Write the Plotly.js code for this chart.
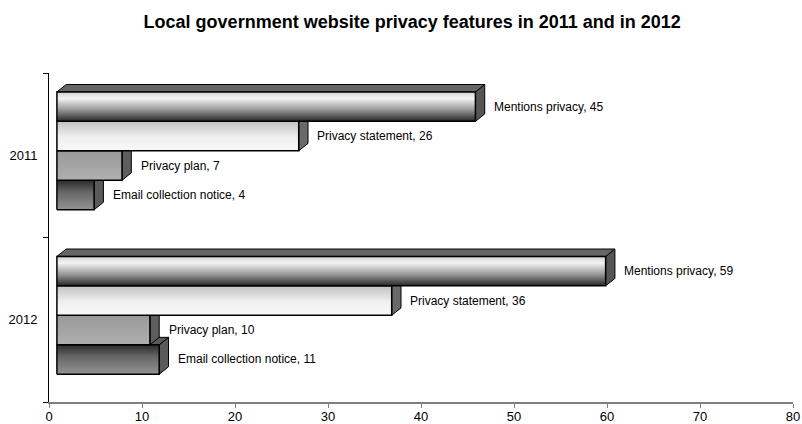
<!DOCTYPE html>
<html><head><meta charset="utf-8">
<script src="https://cdn.plot.ly/plotly-3.0.1.min.js"></script>
<style>html,body{margin:0;padding:0;background:#fff;} #chart{width:802px;height:424px;}</style>
</head><body><div id="chart"></div>
<script>
// ---- data ----
const categories = ['2011', '2012'];
const seriesNames = ['Mentions privacy', 'Privacy statement', 'Privacy plan', 'Email collection notice'];
const values2011 = [45, 26, 7, 4];
const values2012 = [59, 36, 10, 11];
const xTickVals = [0, 10, 20, 30, 40, 50, 60, 70, 80];
const chartTitle = 'Local government website privacy features in 2011 and in 2012';

// ---- style constants ----
const FONT = 'Liberation Sans, Arial, sans-serif';
const BASE = 0.85;      // front-face offset of 3D bars (x units)
const DX = 1.0;         // depth offset x (x units)
const DY = 0.045;       // depth offset y (category units)
const BH = 0.179;       // bar thickness (category units)
const GROUP_SHIFT = 0.027;
const LABEL_GAP = 0.8;
// vertical gradients, 0 = bottom, 1 = top
const frontScales = [
  [[0, '#262626'], [0.4, '#9a9a9a'], [0.78, '#f4f4f4'], [1, '#d0d0d0']],
  [[0, '#f8f8f8'], [0.45, '#f0f0f0'], [1, '#c2c2c2']],
  [[0, '#b0b0b0'], [1, '#999999']],
  [[0, '#939393'], [0.6, '#666666'], [1, '#2a2a2a']]
];
const sideColors = ['#555555', '#6a6a6a', '#5e5e5e', '#5a5a5a'];
const topColors = ['#666666', '#a0a0a0', '#8a8a8a', '#5a5a5a'];

const allValues = [values2011, values2012];
const traces = [];
const annotations = [];

categories.forEach((cat, ci) => {
  const c = categories.length - 1 - ci;
  const vals = allValues[ci];
  for (let j = seriesNames.length - 1; j >= 0; j--) {
    const v = vals[j];
    const yt = c + GROUP_SHIFT + 2 * BH - j * BH;
    const yb = yt - BH;
    const x0 = BASE, x1 = BASE + v;
    const common = {type: 'scatter', mode: 'lines', fill: 'toself', hoverinfo: 'skip', showlegend: false,
                    line: {color: '#000', width: 1}};
    traces.push(Object.assign({}, common, {
      x: [x1, x1 + DX, x1 + DX, x1, x1], y: [yb, yb + DY, yt + DY, yt, yb],
      fillcolor: sideColors[j]
    }));
    traces.push(Object.assign({}, common, {
      x: [x0, x1, x1 + DX, x0 + DX, x0], y: [yt, yt, yt + DY, yt + DY, yt],
      fillcolor: topColors[j]
    }));
    traces.push(Object.assign({}, common, {
      x: [x0, x1, x1, x0, x0], y: [yb, yb, yt, yt, yb],
      fillcolor: '#999',
      fillgradient: {type: 'vertical', start: yb, stop: yt, colorscale: frontScales[j]},
      line: {color: '#000', width: 1.5},
      name: seriesNames[j] + ' ' + cat
    }));
    annotations.push({
      x: x1 + DX + LABEL_GAP, y: (yt + yb) / 2, xref: 'x', yref: 'y',
      text: seriesNames[j] + ', ' + v, showarrow: false, xanchor: 'left', yanchor: 'middle',
      font: {family: FONT, size: 12, color: '#000'}
    });
  }
});

const layout = {
  width: 802, height: 424,
  margin: {l: 49, r: 9, t: 73, b: 22},
  paper_bgcolor: '#fff', plot_bgcolor: '#fff',
  font: {family: FONT, color: '#000'},
  title: {text: '<b>' + chartTitle + '</b>', font: {family: FONT, size: 18, color: '#000'},
          x: 0.514, xref: 'container', xanchor: 'center', y: 0.95, yref: 'container', yanchor: 'middle'},
  xaxis: {range: [0, 80], tickmode: 'array', tickvals: xTickVals, ticks: 'outside', ticklen: 4,
          tickcolor: '#808080', tickwidth: 1, showline: true, linecolor: '#808080', linewidth: 2,
          ticklabelstandoff: -3,
          showgrid: false, zeroline: false, tickfont: {family: FONT, size: 13, color: '#000'}, fixedrange: true},
  yaxis: {range: [-0.5, 1.5], tickmode: 'array', tickvals: categories.map((c, i) => categories.length - 1 - i),
          ticktext: categories, ticks: '', showline: true, linecolor: '#000', linewidth: 1,
          ticklabelstandoff: 8,
          showgrid: false, zeroline: false, tickfont: {family: FONT, size: 13, color: '#000'}, fixedrange: true,
          minor: {tickmode: 'linear', tick0: -0.5, dtick: 1, ticks: 'outside', ticklen: 5, tickcolor: '#000', tickwidth: 1, showgrid: false}},
  annotations: annotations,
  showlegend: false
};

Plotly.newPlot('chart', traces, layout, {staticPlot: true, displayModeBar: false});
</script>
</body></html>
